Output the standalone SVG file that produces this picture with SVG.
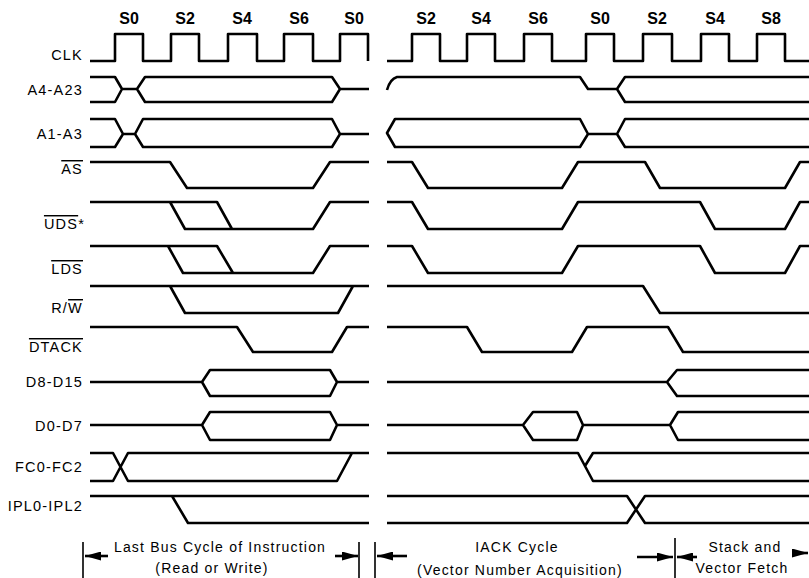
<svg xmlns="http://www.w3.org/2000/svg" width="809" height="578" viewBox="0 0 809 578">
<style>
.w{fill:none;stroke:#000;stroke-width:2.6;stroke-linejoin:round;stroke-linecap:butt}
.b{fill:none;stroke:#000;stroke-width:1.6}
.st{font-family:"Liberation Sans",Arial,sans-serif;font-size:16px;font-weight:bold;text-anchor:middle;fill:#000}
.lb{font-family:"Liberation Sans",Arial,sans-serif;font-size:14.5px;letter-spacing:1.2px;text-anchor:end;fill:#000}
.an{font-family:"Liberation Sans",Arial,sans-serif;font-size:14px;letter-spacing:1.2px;text-anchor:middle;fill:#000}
.ov{text-decoration:overline}
</style>
<defs>
<marker id="ah" viewBox="0 0 16 9" refX="16" refY="4.5" markerWidth="16" markerHeight="9" markerUnits="userSpaceOnUse" orient="auto">
<path d="M0,0 L16,4.5 L0,9 z" fill="#000"/>
</marker>
</defs>
<rect width="809" height="578" fill="#fff"/>
<g id="states">
<text class="st" x="129" y="24">S0</text>
<text class="st" x="185" y="24">S2</text>
<text class="st" x="242" y="24">S4</text>
<text class="st" x="299" y="24">S6</text>
<text class="st" x="354" y="24">S0</text>
<text class="st" x="426" y="24">S2</text>
<text class="st" x="481" y="24">S4</text>
<text class="st" x="538" y="24">S6</text>
<text class="st" x="600" y="24">S0</text>
<text class="st" x="657" y="24">S2</text>
<text class="st" x="715" y="24">S4</text>
<text class="st" x="771" y="24">S8</text>
</g>
<g id="clk">
<text class="lb" x="83" y="60">CLK</text>
<path class="w" d="M90,61 H115 V34 H143 V61 H171 V34 H199 V61 H228 V34 H257 V61 H284 V34 H313 V61 H340 V34 H368 V61"/>
<path class="w" d="M387,61 H412 V34 H440 V61 H467 V34 H495 V61 H524 V34 H552 V61 H586 V34 H614 V61 H643 V34 H672 V61 H701 V34 H729 V61 H757 V34 H785 V61 H809"/>
</g>
<g id="a4-a23">
<text class="lb" x="83" y="95">A4-A23</text>
<path class="w" d="M90,77 H115 L122,89 H137 L145,77 H332 L340,89 H369 M90,102 H115 L122,89 M137,89 L145,102 H332 L340,89"/>
<path class="w" d="M387,90 Q390,79 397,77 H580 L588,89 H617 L625,77 H809 M617,89 L625,102 H809"/>
</g>
<g id="a1-a3">
<text class="lb" x="83" y="139">A1-A3</text>
<path class="w" d="M90,119 H115 L123,134 H135 L143,119 H332 L340,134 H369 M90,147 H115 L123,134 M135,134 L143,147 H332 L340,134"/>
<path class="w" d="M809,119 H625 L617,134 H588 L580,119 H395 L387,133 L395,147 H580 L588,134 M617,134 L625,147 H809"/>
</g>
<g id="as">
<text class="lb" x="83" y="174"><tspan class="ov">AS</tspan></text>
<path class="w" d="M90,162 H170 L187,188 H313 L330,162 H369"/>
<path class="w" d="M387,162 H412 L428,188 H562 L578,162 H645 L660,188 H785 L800,162 H809"/>
</g>
<g id="uds">
<text class="lb" x="85" y="229"><tspan class="ov">UDS</tspan>*</text>
<path class="w" d="M90,202 H217 L232,229 M170,202 L185,229 H313 L330,202 H369"/>
<path class="w" d="M387,202 H412 L428,229 H562 L578,202 H700 L715,229 H785 L800,202 H809"/>
</g>
<g id="lds">
<text class="lb" x="83" y="274"><tspan class="ov">LDS</tspan></text>
<path class="w" d="M90,246 H217 L233,273 M168,246 L183,273 H313 L330,246 H369"/>
<path class="w" d="M387,246 H412 L428,273 H562 L578,246 H700 L715,273 H785 L800,246 H809"/>
</g>
<g id="rw">
<text class="lb" x="83" y="313">R/<tspan class="ov">W</tspan></text>
<path class="w" d="M90,286 H369 M170,286 L185,313 H338 L353,286"/>
<path class="w" d="M387,286 H643 L660,313 H809"/>
</g>
<g id="dtack">
<text class="lb" x="83" y="352"><tspan class="ov">DTACK</tspan></text>
<path class="w" d="M90,327 H237 L253,352 H332 L347,327 H369"/>
<path class="w" d="M387,327 H467 L482,352 H572 L587,327 H668 L683,352 H809"/>
</g>
<g id="d8-d15">
<text class="lb" x="83" y="387">D8-D15</text>
<path class="w" d="M90,382 H202 L210,370 H330 L337,382 H369 M202,382 L210,396 H330 L337,382"/>
<path class="w" d="M387,382 H667 L677,370 H809 M667,382 L677,396 H809"/>
</g>
<g id="d0-d7">
<text class="lb" x="83" y="431">D0-D7</text>
<path class="w" d="M90,425 H202 L210,412 H330 L337,425 H369 M202,425 L210,440 H330 L337,425"/>
<path class="w" d="M387,425 H523 L533,412 H577 L583,425 H670 L678,412 H809 M523,425 L533,440 H577 L583,425 M670,425 L678,440 H809"/>
</g>
<g id="fc0-fc2">
<text class="lb" x="83" y="472">FC0-FC2</text>
<path class="w" d="M90,453 H113 L128,481 H337 L352,453 M90,481 H113 L128,453 H369"/>
<path class="w" d="M387,453 H578 L593,481 H809 M585,466 L593,453 H809"/>
</g>
<g id="ipl0-ipl2">
<text class="lb" x="83" y="511">IPL0-IPL2</text>
<path class="w" d="M90,496 H369 M172,496 L188,523 H369"/>
<path class="w" d="M387,496 H627 L645,523 H809 M387,523 H627 L645,496 H809"/>
</g>
<g id="cycles">
<text class="an" x="220" y="552">Last Bus Cycle of Instruction</text>
<text class="an" x="212" y="573">(Read or Write)</text>
<text class="an" x="517" y="552">IACK Cycle</text>
<text class="an" x="520" y="575">(Vector Number Acquisition)</text>
<text class="an" x="745" y="552">Stack and</text>
<text class="an" x="742" y="573">Vector Fetch</text>
</g>
<g id="connectors">
<path class="b" d="M83,542 V578 M359,542 V578 M375,542 V578 M675,538 V578"/>
<line class="w" x1="108" y1="556" x2="85" y2="556" marker-end="url(#ah)"/>
<line class="w" x1="335" y1="556" x2="358" y2="556" marker-end="url(#ah)"/>
<line class="w" x1="407" y1="556" x2="377" y2="556" marker-end="url(#ah)"/>
<line class="w" x1="637" y1="557" x2="673" y2="557" marker-end="url(#ah)"/>
<line class="w" x1="697" y1="557" x2="677" y2="557" marker-end="url(#ah)"/>
<line class="w" x1="793" y1="553" x2="808" y2="553" marker-end="url(#ah)"/>
</g>
</svg>
